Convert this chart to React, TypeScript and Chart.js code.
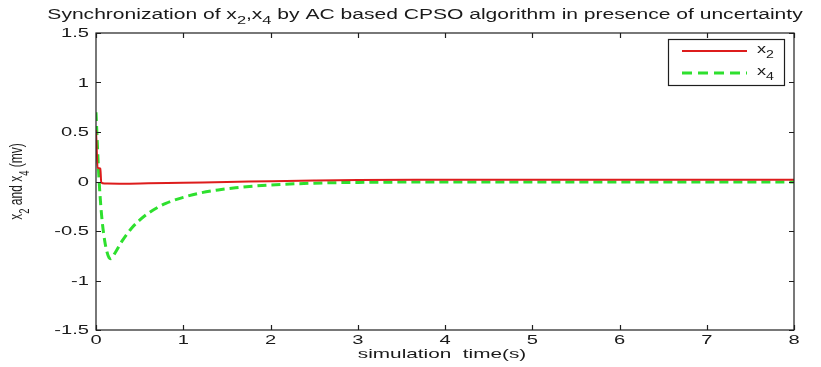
import React, { useEffect, useRef } from "react";
import { Chart, registerables } from "chart.js";
Chart.register(...registerables);

// ---------- data ----------
const timeX2 = [0, 0.02, 0.05, 0.06, 0.1, 0.3, 0.6, 1.0, 1.5, 2.0, 2.5, 3.0, 4.0, 5.0, 6.0, 7.0, 8.0];
const valuesX2 = [0.52, 0.14, 0.13, -0.01, -0.02, -0.022, -0.018, -0.012, -0.005, 0.003, 0.01, 0.015, 0.017, 0.018, 0.018, 0.018, 0.018];

const timeX4 = [0, 0.03, 0.06, 0.1, 0.15, 0.17, 0.22, 0.3, 0.4, 0.5, 0.6, 0.7, 0.8, 1.0, 1.2, 1.4, 1.6, 1.8, 2.0, 2.5, 3.0, 4.0, 5.0, 6.0, 7.0, 8.0];
const valuesX4 = [0.7, 0.1, -0.3, -0.6, -0.77, -0.78, -0.72, -0.6, -0.48, -0.39, -0.32, -0.265, -0.22, -0.16, -0.115, -0.085, -0.063, -0.047, -0.035, -0.017, -0.009, -0.005, -0.004, -0.004, -0.004, -0.004];

const xMin = 0;
const xMax = 8;
const xStep = 1;
const yMin = -1.5;
const yMax = 1.5;
const yStep = 0.5;

type Part = [string, boolean];
const titleParts: Part[] = [
  ["Synchronization of x", false],
  ["2", true],
  [",x", false],
  ["4", true],
  [" by AC based CPSO algorithm in presence of uncertainty", false],
];
const xLabelText = "simulation  time(s)";
const yLabelParts: Part[] = [
  ["x", false],
  ["2", true],
  [" and x", false],
  ["4", true],
  [" (mv)", false],
];
const legendItems = [
  { name: "x", sub: "2", color: "#dd1c1c", dash: [] as number[], width: 2 },
  { name: "x", sub: "4", color: "#2ee02e", dash: [10, 6] as number[], width: 3 },
];

// ---------- styling ----------
const FONT = '"Liberation Sans", Arial, Helvetica, sans-serif';
const SX = 1.55;
const TEXT = "#1a1a1a";

function setFont(ctx: CanvasRenderingContext2D, size: number) {
  ctx.font = `${size}px ${FONT}`;
}
function partsWidth(ctx: CanvasRenderingContext2D, parts: Part[], size: number) {
  let w = 0;
  for (const [t, sub] of parts) {
    setFont(ctx, sub ? size * 0.78 : size);
    w += ctx.measureText(t).width;
  }
  return w;
}
function drawParts(ctx: CanvasRenderingContext2D, parts: Part[], size: number, x: number, y: number) {
  let cx = x;
  ctx.textBaseline = "alphabetic";
  ctx.textAlign = "left";
  for (const [t, sub] of parts) {
    setFont(ctx, sub ? size * 0.78 : size);
    ctx.fillText(t, cx, sub ? y + size * 0.35 : y);
    cx += ctx.measureText(t).width;
  }
}

const matlabPlugin = {
  id: "matlabDecor",
  afterDraw(chart: any) {
    const ctx: CanvasRenderingContext2D = chart.ctx;
    const { left, right, top, bottom } = chart.chartArea;
    const xs = chart.scales.x;
    const ys = chart.scales.y;
    ctx.save();

    // box
    ctx.strokeStyle = "#1e1e1e";
    ctx.lineWidth = 1.2;
    ctx.setLineDash([]);
    ctx.strokeRect(left, top, right - left, bottom - top);

    // inward ticks
    const tl = 5;
    ctx.beginPath();
    xs.ticks.forEach((t: any) => {
      const px = Math.round(xs.getPixelForValue(t.value)) + 0.5;
      ctx.moveTo(px, bottom);
      ctx.lineTo(px, bottom - tl);
      ctx.moveTo(px, top);
      ctx.lineTo(px, top + tl);
    });
    ys.ticks.forEach((t: any) => {
      const py = Math.round(ys.getPixelForValue(t.value)) + 0.5;
      ctx.moveTo(left, py);
      ctx.lineTo(left + tl, py);
      ctx.moveTo(right, py);
      ctx.lineTo(right - tl, py);
    });
    ctx.stroke();

    ctx.fillStyle = TEXT;
    // x tick labels
    const tickSize = 13;
    xs.ticks.forEach((t: any) => {
      const px = xs.getPixelForValue(t.value);
      ctx.save();
      ctx.translate(px, bottom + 14);
      ctx.scale(SX, 1);
      setFont(ctx, tickSize);
      ctx.textAlign = "center";
      ctx.textBaseline = "alphabetic";
      ctx.fillText(String(t.value), 0, 0);
      ctx.restore();
    });
    // y tick labels
    ys.ticks.forEach((t: any) => {
      const py = ys.getPixelForValue(t.value);
      ctx.save();
      ctx.translate(left - 7, py + 4);
      ctx.scale(SX, 1);
      setFont(ctx, tickSize);
      ctx.textAlign = "right";
      ctx.textBaseline = "alphabetic";
      ctx.fillText(String(t.value), 0, 0);
      ctx.restore();
    });

    // x label
    ctx.save();
    ctx.translate((left + right) / 2 - 3, bottom + 28);
    ctx.scale(SX * 1.03, 1);
    setFont(ctx, 13);
    ctx.textAlign = "center";
    ctx.textBaseline = "alphabetic";
    ctx.fillText(xLabelText, 0, 0);
    ctx.restore();

    // y label (rotated)
    ctx.save();
    const yw = partsWidth(ctx, yLabelParts, 12);
    ctx.translate(22, (top + bottom) / 2);
    ctx.scale(SX, 1);
    ctx.rotate(-Math.PI / 2);
    drawParts(ctx, yLabelParts, 12, -yw / 2, 0);
    ctx.restore();

    // title
    ctx.save();
    const tw = partsWidth(ctx, titleParts, 14);
    ctx.translate((left + right) / 2 - 20, 19);
    ctx.scale(SX * 0.97, 1);
    drawParts(ctx, titleParts, 14, -tw / 2, 0);
    ctx.restore();

    // legend
    const lx0 = 668, ly0 = 39, lx1 = 784, ly1 = 85;
    ctx.fillStyle = "#ffffff";
    ctx.fillRect(lx0, ly0, lx1 - lx0, ly1 - ly0);
    ctx.strokeStyle = "#1e1e1e";
    ctx.lineWidth = 1.2;
    ctx.strokeRect(lx0 + 0.5, ly0 + 0.5, lx1 - lx0, ly1 - ly0);
    legendItems.forEach((it, i) => {
      const y = ly0 + 12 + i * 22;
      ctx.strokeStyle = it.color;
      ctx.lineWidth = it.width;
      ctx.setLineDash(it.dash);
      ctx.beginPath();
      ctx.moveTo(lx0 + 14, y);
      ctx.lineTo(lx0 + 79, y);
      ctx.stroke();
      ctx.setLineDash([]);
      ctx.fillStyle = TEXT;
      ctx.save();
      ctx.translate(lx0 + 89, y + 2);
      ctx.scale(SX * 0.9, 1);
      drawParts(ctx, [[it.name, false], [it.sub, true]], 13, 0, 0);
      ctx.restore();
    });

    ctx.restore();
  },
};

export default function App() {
  const ref = useRef<HTMLCanvasElement | null>(null);
  useEffect(() => {
    document.body.style.margin = "0";
    const canvas = ref.current;
    if (!canvas) return;
    const chart = new Chart(canvas, {
      type: "line",
      data: {
        datasets: [
          {
            label: "x2",
            data: timeX2.map((t, i) => ({ x: t, y: valuesX2[i] })),
            borderColor: legendItems[0].color,
            borderWidth: 2,
            pointRadius: 0,
            cubicInterpolationMode: "monotone",
            fill: false,
          },
          {
            label: "x4",
            data: timeX4.map((t, i) => ({ x: t, y: valuesX4[i] })),
            borderColor: legendItems[1].color,
            borderWidth: 3,
            borderDash: [9, 5],
            pointRadius: 0,
            cubicInterpolationMode: "monotone",
            fill: false,
          },
        ],
      },
      options: {
        animation: false,
        responsive: false,
        maintainAspectRatio: false,
        devicePixelRatio: 1,
        layout: { padding: { left: 0, right: 27, top: 33, bottom: 0 } },
        plugins: { legend: { display: false }, title: { display: false }, tooltip: { enabled: false } },
        scales: {
          x: {
            type: "linear",
            min: xMin,
            max: xMax,
            ticks: { stepSize: xStep, display: false },
            grid: { display: false },
            border: { display: false },
            afterFit: (s: any) => {
              s.height = 37;
            },
          },
          y: {
            type: "linear",
            min: yMin,
            max: yMax,
            ticks: { stepSize: yStep, display: false },
            grid: { display: false },
            border: { display: false },
            afterFit: (s: any) => {
              s.width = 96;
            },
          },
        },
      },
      plugins: [matlabPlugin],
    } as any);
    return () => chart.destroy();
  }, []);
  return (
    <div style={{ width: 821, height: 367, background: "#fff" }}>
      <canvas ref={ref} width={821} height={367} style={{ display: "block" }} />
    </div>
  );
}
